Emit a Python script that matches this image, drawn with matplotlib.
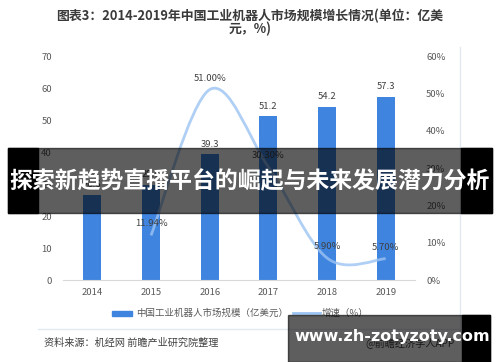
import matplotlib
matplotlib.use("Agg")
import matplotlib.pyplot as plt
from matplotlib.path import Path
from matplotlib.patches import PathPatch, Rectangle
from matplotlib.lines import Line2D
import numpy as np

plt.rcParams['font.family'] = ['Noto Sans CJK SC', 'DejaVu Sans']

years = ["2014", "2015", "2016", "2017", "2018", "2019"]
market = [26.6, 29.8, 39.3, 51.2, 54.2, 57.3]
growth_years = ["2015", "2016", "2017", "2018", "2019"]
growth = [11.94, 51.00, 30.30, 5.90, 5.70]
growth_labels = ["11.94%", "51.00%", "30.30%", "5.90%", "5.70%"]
left_ticks = [0, 10, 20, 30, 40, 50, 60, 70]
right_ticks = [0, 10, 20, 30, 40, 50, 60]

W, H = 500, 362
fig = plt.figure(figsize=(W / 100, H / 100), dpi=100)
fig.patch.set_facecolor("white")

def fx(px):
    return px / W

def fy(py):
    return 1 - py / H

ax = fig.add_axes([fx(63), fy(280), fx(415) - fx(63), fy(56) - fy(280)])
ax2 = ax.twinx()

x = np.arange(len(years))
bar_color = "#3f85e0"
ax.bar(x, market, width=0.31, color=bar_color, zorder=2)
for xi, v in zip(x, market):
    ax.annotate(f"{v:.1f}", (xi, v), xytext=(0, 4), textcoords="offset points",
                ha="center", va="bottom", fontsize=6.8, color="#404040")

ax.set_xlim(-0.5, 5.5)
ax.set_ylim(0, 70)
ax.set_yticks(left_ticks)
ax.set_xticks(x)
ax.set_xticklabels(years)
ax2.set_ylim(0, 60)
ax2.set_yticks(right_ticks)
ax2.set_yticklabels([f"{t}%" for t in right_ticks])

for a in (ax, ax2):
    for s in a.spines.values():
        s.set_visible(False)
    a.tick_params(length=0, labelsize=6.8, labelcolor="#595959")
ax.spines["bottom"].set_visible(True)
ax.spines["bottom"].set_color("#d9d9d9")
ax.tick_params(axis="y", pad=8)
ax.tick_params(axis="x", pad=6)
ax2.tick_params(axis="y", pad=8)

# smoothed growth line (Bezier through data points)
gx = np.array([years.index(y) for y in growth_years], dtype=float)
gy = np.array(growth, dtype=float)
pts = np.column_stack([gx, gy])
n = len(pts)
verts = [tuple(pts[0])]
codes = [Path.MOVETO]
for i in range(n - 1):
    p0 = pts[max(i - 1, 0)]
    p1 = pts[i]
    p2 = pts[i + 1]
    p3 = pts[min(i + 2, n - 1)]
    c1 = p1 + (p2 - p0) / 6
    c2 = p2 - (p3 - p1) / 6
    verts += [tuple(c1), tuple(c2), tuple(p2)]
    codes += [Path.CURVE4] * 3
line_color = "#9cc3f2"
ax2.add_patch(PathPatch(Path(verts, codes), facecolor="none", edgecolor=line_color,
                        lw=2.0, alpha=0.8, zorder=3))
for xi, v, lab in zip(gx, gy, growth_labels):
    ax2.annotate(lab, (xi, v), xytext=(0, 5), textcoords="offset points",
                 ha="center", va="bottom", fontsize=6.8, color="#404040")

# title
fig.text(0.5, fy(16), "图表3：2014-2019年中国工业机器人市场规模增长情况(单位：亿美",
         ha="center", va="center", fontsize=9.3, fontweight="bold", color="#3a3a3a")
fig.text(0.5, fy(29), "元，%)", ha="center", va="center", fontsize=9.3,
         fontweight="bold", color="#3a3a3a")

# legend
fig.patches.append(Rectangle((fx(112), fy(316)), fx(132) - fx(112), fy(311) - fy(316),
                             transform=fig.transFigure, color=bar_color))
fig.text(fx(136), fy(313), "中国工业机器人市场规模（亿美元）", ha="left", va="center",
         fontsize=6.8, color="#595959")
fig.lines.append(Line2D([fx(293), fx(320)], [fy(313), fy(313)], transform=fig.transFigure,
                        color=line_color, lw=2))
fig.text(fx(322), fy(313), "增速（%）", ha="left", va="center", fontsize=6.8, color="#595959")

# frame lines
fig.lines.append(Line2D([fx(460), fx(460)], [fy(47), fy(330)], transform=fig.transFigure,
                        color="#e3e9f1", lw=1))
fig.lines.append(Line2D([fx(38), fx(460)], [fy(329), fy(329)], transform=fig.transFigure,
                        color="#e3e9f1", lw=1))

# source
fig.text(fx(44), fy(343), "资料来源：机经网 前瞻产业研究院整理", ha="left", va="center",
         fontsize=7.3, color="#404040")
fig.text(fx(455), fy(343), "@前瞻经济学人APP", ha="right", va="center",
         fontsize=7.3, color="#404040")

# overlay banner
fig.patches.append(Rectangle((fx(8), fy(213)), fx(492) - fx(8), fy(148) - fy(213),
                             transform=fig.transFigure, color="black", alpha=0.63, zorder=10))
fig.patches.append(Rectangle((fx(8), fy(213)), fx(38) - fx(8), fy(148) - fy(213),
                             transform=fig.transFigure, color="black", zorder=10))
fig.patches.append(Rectangle((fx(461), fy(213)), fx(492) - fx(461), fy(148) - fy(213),
                             transform=fig.transFigure, color="black", zorder=10))
fig.text(0.5, fy(182), "探索新趋势直播平台的崛起与未来发展潜力分析", ha="center", va="center",
         fontsize=16.5, fontweight="bold", color="white", zorder=11)

# bottom url banner
fig.patches.append(Rectangle((fx(288), fy(362)), fx(490) - fx(288), fy(315) - fy(362),
                             transform=fig.transFigure, color="black", alpha=0.63, zorder=10))
fig.patches.append(Rectangle((fx(462), fy(362)), fx(490) - fx(462), fy(315) - fy(362),
                             transform=fig.transFigure, color="black", zorder=10))
fig.text(fx(392), fy(336), "www.zh-zotyzoty.com", ha="center", va="center",
         fontsize=11.5, fontweight="bold", color="white", family="DejaVu Sans", zorder=11)

fig.savefig("out.png", dpi=100)
